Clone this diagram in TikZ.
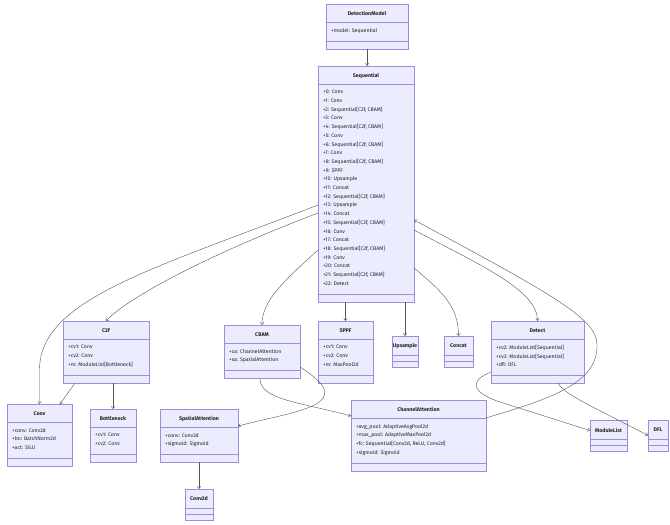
\documentclass[tikz,border=0pt]{standalone}
\usepackage{fontspec}
\setmainfont{Fira Sans}
\usetikzlibrary{calc,arrows.meta}
\definecolor{clsfill}{HTML}{ECECFF}
\definecolor{clsdraw}{HTML}{A08ADF}
\definecolor{edgecol}{HTML}{555555}
\definecolor{txtcol}{HTML}{222222}
\tikzset{
 clsbox/.style={draw=clsdraw, fill=clsfill, line width=0.4pt, inner sep=0pt, outer sep=0pt},
 divline/.style={draw=clsdraw, line width=0.4pt},
 clstitle/.style={font=\fontsize{5.3}{6}\selectfont\bfseries, text=txtcol, inner sep=0pt},
 clsattr/.style={font=\fontsize{5.2}{8.7}\selectfont, text=txtcol, inner sep=0pt, align=left},
 edge/.style={draw=edgecol, line width=0.4pt, -{Straight Barb[length=2.4pt,width=3.6pt]}},
}
\newcommand\umlcls[7]{%
 \pgfmathsetmacro\clsH{36+#5*8.7}%
 \pgfmathsetmacro\clsW{#4-#2}%
 \node[clsbox,anchor=north west,minimum width=\clsW pt,minimum height=\clsH pt] (#1) at (#2,#3) {};
 \draw[divline] ($(#1.north west)+(0,18)$) -- ($(#1.north east)+(0,18)$);
 \draw[divline] ($(#1.south west)+(0,-8)$) -- ($(#1.south east)+(0,-8)$);
 \node[clstitle] (#1-t) at ($(#1.north)+(0,9.5)$) {#6};
 \node[clsattr,anchor=north west] (#1-a) at ($(#1.north west)+(5,24)$) {#7};
}
\newcommand\umlempty[5]{%
 \pgfmathsetmacro\clsW{#4-#2}%
 \node[clsbox,anchor=north west,minimum width=\clsW pt,minimum height=31pt] (#1) at (#2,#3) {};
 \draw[divline] ($(#1.north west)+(0,19)$) -- ($(#1.north east)+(0,19)$);
 \draw[divline] ($(#1.north west)+(0,25)$) -- ($(#1.north east)+(0,25)$);
 \node[clstitle] (#1-t) at ($(#1.north)+(0,10)$) {#5};
}
\begin{document}
\begin{tikzpicture}[x=1pt,y=-1pt]
\fill[white] (0,0) rectangle (670,525);
\useasboundingbox (0,0) rectangle (670,525);

\umlcls{DM}{326}{4}{408}{1}{DetectionModel}{+model: Sequential}
\umlcls{Seq}{318}{66}{414}{23}{Sequential}{+0: Conv\\+1: Conv\\+2: Sequential[C2f, CBAM]\\+3: Conv\\+4: Sequential[C2f, CBAM]\\+5: Conv\\+6: Sequential[C2f, CBAM]\\+7: Conv\\+8: Sequential[C2f, CBAM]\\+9: SPPF\\+10: Upsample\\+11: Concat\\+12: Sequential[C2f, CBAM]\\+13: Upsample\\+14: Concat\\+15: Sequential[C2f, CBAM]\\+16: Conv\\+17: Concat\\+18: Sequential[C2f, CBAM]\\+19: Conv\\+20: Concat\\+21: Sequential[C2f, CBAM]\\+22: Detect}
\umlcls{C2f}{63}{321}{149}{3}{C2f}{+cv1: Conv\\+cv2: Conv\\+m: ModuleList[Bottleneck]}
\umlcls{CBAM}{224}{325}{300}{2}{CBAM}{+ca: ChannelAttention\\+sa: SpatialAttention}
\umlcls{SPPF}{318}{321}{373}{3}{SPPF}{+cv1: Conv\\+cv2: Conv\\+m: MaxPool2d}
\umlempty{Ups}{392}{336}{418}{Upsample}
\umlempty{Cat}{444}{336}{473}{Concat}
\umlcls{Det}{491}{321}{584}{3}{Detect}{+cv2: ModuleList[Sequential]\\+cv3: ModuleList[Sequential]\\+dfl: DFL}
\umlcls{Conv}{7}{404}{72}{3}{Conv}{+conv: Conv2d\\+bn: BatchNorm2d\\+act: SiLU}
\umlcls{Bot}{90}{409}{136}{2}{Bottleneck}{+cv1: Conv\\+cv2: Conv}
\umlcls{SA}{160}{409}{238}{2}{SpatialAttention}{+conv: Conv2d\\+sigmoid: Sigmoid}
\umlcls{CA}{351}{400}{486}{4}{ChannelAttention}{+avg\_pool: AdaptiveAvgPool2d\\+max\_pool: AdaptiveMaxPool2d\\+fc: Sequential[Conv2d, ReLU, Conv2d]\\+sigmoid: Sigmoid}
\umlempty{ML}{590}{420}{627}{ModuleList}
\umlempty{DFL}{648}{420}{668}{DFL}
\umlempty{C2d}{185}{489}{213}{Conv2d}

% connectors
\draw[edge] (DM.south) -- (DM.south |- Seq.north);
\draw[edge] ($(Seq.north west)+(0,139)$) .. controls (150,270) and (39.5,300) .. ($(Conv.north)+(0,-34)$) -- (Conv.north);
\draw[edge] ($(Seq.north west)+(0,147)$) .. controls (200,258) and (125,300) .. (C2f.north);
\draw[edge] ($(Seq.north west)+(0,184)$) .. controls (285,280) and (262,300) .. (CBAM.north);
\draw[edge] (Seq.south -| SPPF.north) -- (SPPF.north);
\draw[edge] (Seq.south -| Ups.north) -- (Ups.north);
\draw[edge] ($(Seq.north east)+(0,202)$) .. controls (440,290) and (458.5,305) .. (Cat.north);
\draw[edge] ($(Seq.north east)+(0,164)$) .. controls (480,265) and (537.5,290) .. (Det.north);
\draw[edge] ($(CA.north east)+(0,18)$) .. controls (545,400) and (598,385) .. (597,345) .. controls (597,320) and (560,298) .. ($(Seq.north east)+(0,154)$);
\draw[edge] ($(C2f.south west)+(12,0)$) -- ($(Conv.north east)+(-12,0)$);
\draw[edge] (Bot.north |- C2f.south) -- (Bot.north);
\draw[edge] ($(CBAM.south)+(-2,0)$) .. controls (260,400) and (300,402) .. ($(CA.north west)+(0,16)$);
\draw[edge] ($(CBAM.north east)+(0,42)$) .. controls (360,405) and (300,410) .. ($(SA.north east)+(0,17)$);
\draw[edge] (SA.south) -- (C2d.north);
\draw[edge] ($(Det.south)+(20.5,0)$) .. controls (565,395) and (590,405) .. (DFL.west);
\draw[edge] ($(Det.south west)+(0,-11)$) .. controls (470,380) and (470,392) .. (500,402) -- ($(ML.west)+(0,-5)$);
\end{tikzpicture}
\end{document}
